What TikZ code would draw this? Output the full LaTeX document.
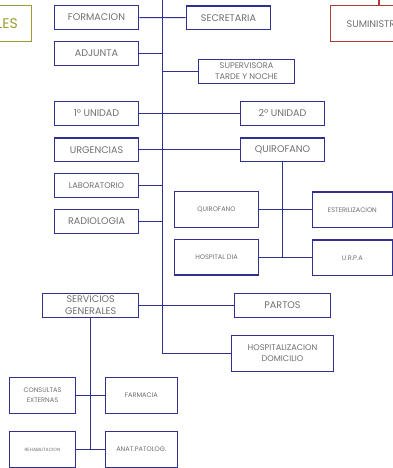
\documentclass[tikz,border=0pt]{standalone}
\usepackage{fontspec}
\setmainfont{Poppins}
\definecolor{boxblue}{HTML}{2E3192}
\definecolor{olivec}{HTML}{9E9A2E}
\definecolor{redc}{HTML}{B03A3A}
\definecolor{txt}{HTML}{707070}
\tikzset{
  box/.style={draw=boxblue, line width=1.3pt, fill=white, inner sep=0pt, align=center, text=txt, minimum width=84.4pt, minimum height=23.6pt},
  big/.style={font=\fontsize{9.6}{12.4}\selectfont},
  mid/.style={font=\fontsize{8.2}{11}\selectfont},
  sml/.style={font=\fontsize{6.6}{10}\selectfont},
  tiny/.style={font=\fontsize{4.6}{6}\selectfont},
  tall/.style={minimum height=35.6pt},
  link/.style={draw=boxblue, line width=1.1pt},
}
\begin{document}
\begin{tikzpicture}[x=1pt,y=-1pt]
\useasboundingbox (0,0) rectangle (393,468);
\begin{scope}
\clip (0,0) rectangle (393,468);
% partial boxes at the edges
\draw[olivec, line width=1.3pt] (-40,5.7) rectangle (31.7,41.7);
\node[text=olivec, font=\fontsize{14}{16}\selectfont, anchor=east, inner sep=0pt] (les) at (18,23.2) {LES};
\draw[redc, line width=1.3pt] (330.7,5.7) rectangle (440,41.7);
\node[text=txt, big, anchor=west, inner sep=0pt] (sum) at (346.5,23.7) {SUMINISTRO};
\coordinate (redtop) at (379,-5);
\draw[redc, line width=1.1pt] (redtop) -- (379,5.7);
% main line
\coordinate (top) at (162.7,-5);
\node[box, minimum width=102.4pt, minimum height=36pt, mid] (hd) at (282.5,353.3) {HOSPITALIZACION\\DOMICILIO};
\draw[link] (top) |- (hd.west);

\node[box, big] (form) at (96.5,17.5) {FORMACION};
\node[box, big] (secr) at (228.5,17.7) {SECRETARIA};
\node[box, big] (adj) at (96.5,53.5) {ADJUNTA};
\node[box, mid, minimum width=96.4pt] (sup) at (246.5,71.5) {SUPERVISORA\\TARDE Y NOCHE};
\node[box, big] (u1) at (96.5,113.5) {1º UNIDAD};
\node[box, big] (u2) at (282.5,113.5) {2º UNIDAD};
\node[box, big] (urg) at (96.5,149.7) {URGENCIAS};
\node[box, big] (quir) at (282.5,149.7) {QUIROFANO};
\node[box, mid] (lab) at (96.5,185.5) {LABORATORIO};
\node[box, big] (rad) at (96.5,221.5) {RADIOLOGIA};

\node[box, sml, tall] (q2) at (216.5,209.5) {QUIROFANO};
\node[box, sml, tall, minimum width=80pt] (est) at (352.4,209.7) {ESTERILIZACION};
\node[box, sml, tall] (hdia) at (216.5,257.3) {HOSPITAL DIA};
\node[box, sml, tall, minimum width=80pt] (urpa) at (352.4,257.8) {U.R.P.A};

\node[box, big, minimum width=96pt, minimum height=24pt] (sg) at (90.7,305.3) {SERVICIOS\\GENERALES};
\node[box, big, minimum width=96.4pt, minimum height=24pt] (par) at (282.5,305.3) {PARTOS};

\node[box, sml, tall, minimum width=66.4pt] (cons) at (42.5,395.5) {CONSULTAS\\EXTERNAS};
\node[box, sml, tall, minimum width=72pt] (farm) at (141.3,395.5) {FARMACIA};
\node[box, tiny, tall, minimum width=66.4pt] (reh) at (42.5,449.5) {REHABILITACION};
\node[box, sml, tall, minimum width=72pt] (anat) at (141.3,449.5) {ANAT.PATOLOG.};

% connectors
\draw[link] (form) -- (secr);
\draw[link] (adj.east) -- (adj.east -| top);
\draw[link] (sup.west) -- (sup.west -| top);
\draw[link] (u1) -- (u2);
\draw[link] (urg) -- (quir);
\draw[link] (lab.east) -- (lab.east -| top);
\draw[link] (rad.east) -- (rad.east -| top);
\draw[link] (sg) -- (par);

\coordinate (qbot) at (quir.south |- hdia.east);
\draw[link] (quir.south) -- (qbot);
\draw[link] (q2.east) -- (q2.east -| est.west);
\draw[link] (hdia.east) -- (hdia.east -| urpa.west);

\coordinate (sbot) at (sg.south |- reh.east);
\draw[link] (sg.south) -- (sbot);
\draw[link] (cons) -- (farm);
\draw[link] (reh) -- (anat);
\end{scope}
\end{tikzpicture}
\end{document}
